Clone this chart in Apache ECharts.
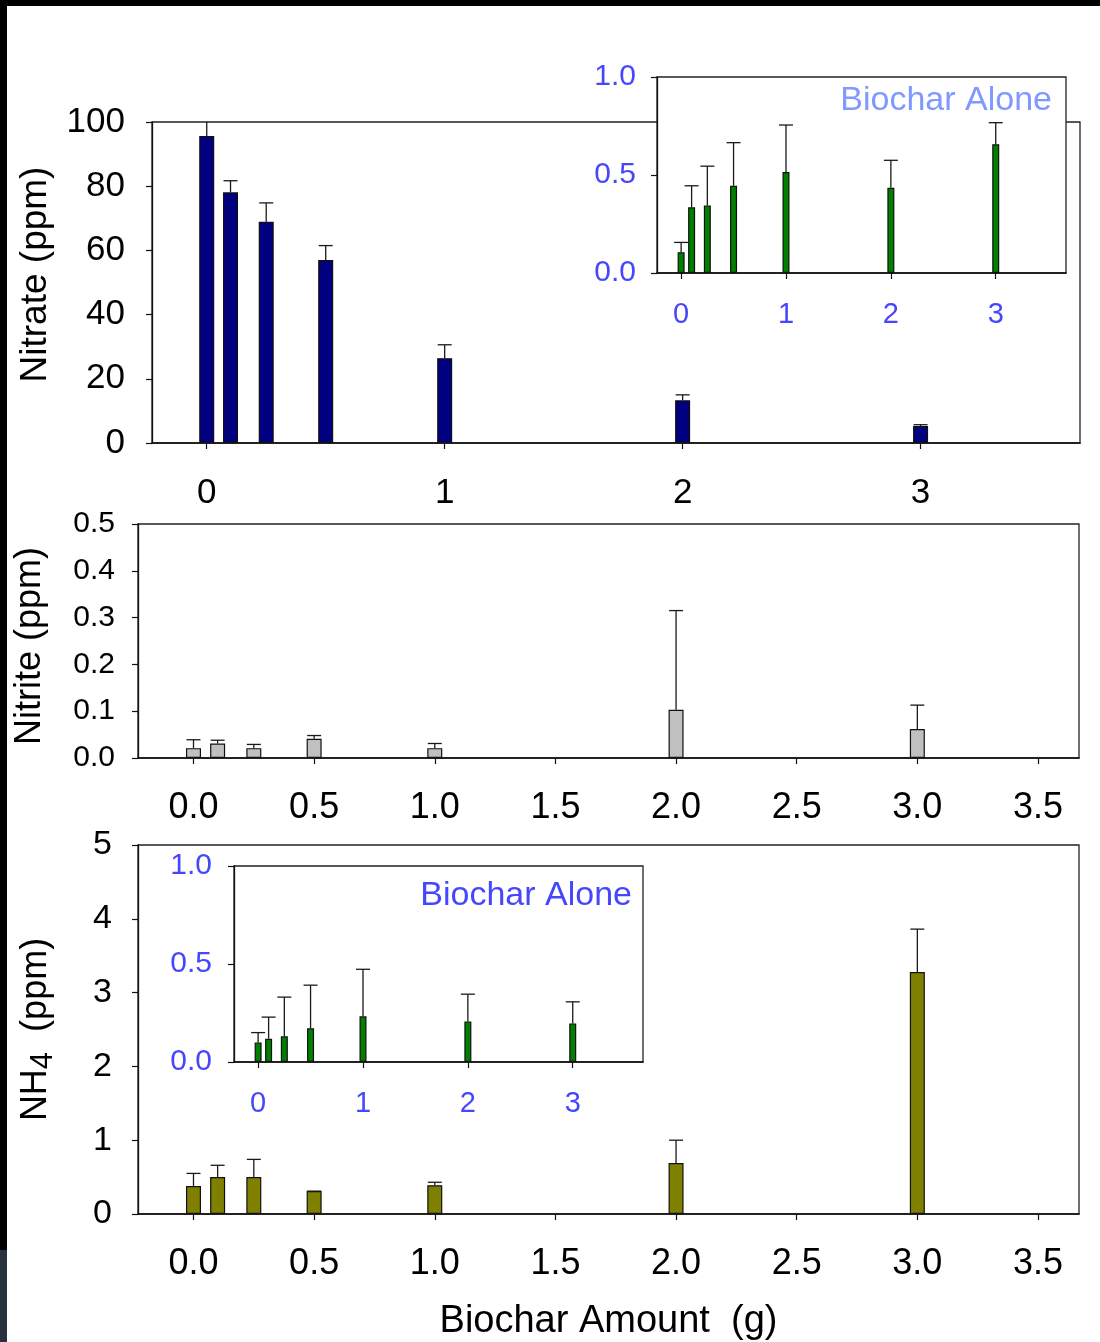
<!DOCTYPE html>
<html>
<head>
<meta charset="utf-8">
<script src="https://cdn.jsdelivr.net/npm/echarts@6/dist/echarts.min.js"></script>
<style>
  html, body { margin: 0; padding: 0; background: #000; }
  #main { width: 1100px; height: 1342px; }
</style>
</head>
<body>
<div id="main"></div>
<script>
// biochar amount (g) for every bar
const amounts = [0, 0.1, 0.25, 0.5, 1, 2, 3]

// nitrate (ppm), biochar + soil
const nitrate = [95.6, 78.1, 68.9, 57.0, 26.4, 13.3, 5.3]
const nitrateErr = [5.0, 3.6, 5.9, 4.5, 4.2, 1.7, 0.4]
// nitrate inset, biochar alone
const nitrateAlone = [0.106, 0.335, 0.345, 0.445, 0.515, 0.435, 0.657]
const nitrateAloneErr = [0.05, 0.11, 0.2, 0.22, 0.24, 0.14, 0.11]

// nitrite (ppm)
const nitrite = [0.021, 0.031, 0.021, 0.041, 0.021, 0.103, 0.062]
const nitriteErr = [0.018, 0.007, 0.008, 0.007, 0.01, 0.212, 0.051]

// NH4 (ppm)
const nh4 = [0.38, 0.50, 0.50, 0.31, 0.39, 0.69, 3.28]
const nh4Err = [0.17, 0.16, 0.24, 0, 0.04, 0.31, 0.58]
// NH4 inset, biochar alone
const nh4Alone = [0.10, 0.119, 0.131, 0.172, 0.233, 0.206, 0.197]
const nh4AloneErr = [0.05, 0.11, 0.2, 0.22, 0.24, 0.14, 0.11]

// tick values
const ticksWhole = [0, 1, 2, 3]
const ticksHalf = [0, 0.5, 1, 1.5, 2, 2.5, 3, 3.5]

const font = 'Liberation Sans, Arial, sans-serif'
const blue = '#4646ff'

const bars = vals => amounts.map((a, i) => [a, vals[i]])
const errs = (vals, e) => amounts.map((a, i) => [a, vals[i], e[i]])

// vertical error bar with a cap, drawn from the bar top upwards
const errorBar = (params, api) => {
  const x = api.value(0)
  const y = api.value(1)
  const e = api.value(2)
  const p0 = api.coord([x, y])
  const p1 = api.coord([x, y + e])
  const st = { stroke: '#1a1a1a', lineWidth: 1.3 }
  return {
    type: 'group',
    children: [
      { type: 'line', shape: { x1: p0[0], y1: p0[1], x2: p1[0], y2: p1[1] }, style: st },
      { type: 'line', shape: { x1: p1[0] - 7, y1: p1[1], x2: p1[0] + 7, y2: p1[1] }, style: st }
    ]
  }
}

const xAxisOf = (gi, ticks, fmt, size, color, margin, z) => ({
  type: 'value',
  gridIndex: gi,
  min: -0.23,
  max: 3.67,
  z: z,
  splitLine: { show: false },
  axisLine: { show: true, onZero: false, lineStyle: { color: '#111', width: 1.5 } },
  axisTick: { show: true, length: 6, customValues: ticks, lineStyle: { color: '#111', width: 1.2 } },
  axisLabel: {
    customValues: ticks, formatter: fmt, margin: margin,
    fontSize: size, color: color, fontFamily: font
  }
})

const yAxisOf = (gi, max, interval, fmt, size, color, margin, z) => ({
  type: 'value',
  gridIndex: gi,
  min: 0,
  max: max,
  interval: interval,
  z: z,
  splitLine: { show: false },
  axisLine: { show: true, onZero: false, lineStyle: { color: '#111', width: 1.3 } },
  axisTick: { show: true, length: 6, lineStyle: { color: '#111', width: 1.2 } },
  axisLabel: { formatter: fmt, margin: margin, fontSize: size, color: color, fontFamily: font }
})

const fixed1 = v => v.toFixed(1)
const whole = v => String(v)

const xAxes = [
  xAxisOf(0, ticksWhole, whole, 35, '#000', 33, 0),
  xAxisOf(1, ticksWhole, whole, 29, blue, 27, 6),
  xAxisOf(2, ticksHalf, fixed1, 36, '#000', 32, 0),
  Object.assign(xAxisOf(3, ticksHalf, fixed1, 36, '#000', 32, 0), {
    name: 'Biochar Amount  (g)',
    nameLocation: 'middle',
    nameGap: 89,
    nameTextStyle: { fontSize: 38, color: '#000', fontFamily: font }
  }),
  xAxisOf(4, ticksWhole, whole, 29, blue, 27, 6)
]

const yAxes = [
  Object.assign(yAxisOf(0, 100, 20, whole, 35, '#000', 27, 0), {
    name: 'Nitrate (ppm)', nameLocation: 'middle', nameGap: 98,
    nameTextStyle: { fontSize: 37, color: '#000', fontFamily: font, padding: [0, 0, 0, 16] }
  }),
  yAxisOf(1, 1, 0.5, fixed1, 30, blue, 21, 6),
  Object.assign(yAxisOf(2, 0.5, 0.1, fixed1, 30, '#000', 23, 0), {
    name: 'Nitrite (ppm)', nameLocation: 'middle', nameGap: 90,
    nameTextStyle: { fontSize: 36, color: '#000', fontFamily: font, padding: [0, 10, 0, 0] }
  }),
  Object.assign(yAxisOf(3, 5, 1, whole, 34, '#000', 26, 0), {
    name: '{a|NH}{s|4}{a|  (ppm)}', nameLocation: 'middle', nameGap: 79,
    nameTextStyle: {
      color: '#000', fontFamily: font,
      rich: {
        a: { fontSize: 36, fontFamily: font, color: '#000' },
        s: { fontSize: 31, fontFamily: font, color: '#000', padding: [14, 0, 0, 0] }
      }
    }
  }),
  yAxisOf(4, 1, 0.5, fixed1, 30, blue, 22, 6)
]

const barSeries = (gi, vals, color, width, z) => ({
  type: 'bar',
  xAxisIndex: gi,
  yAxisIndex: gi,
  data: bars(vals),
  barWidth: width,
  z: z,
  silent: true,
  itemStyle: { color: color, borderColor: '#111', borderWidth: 1.2 }
})

const errSeries = (gi, vals, e, z) => ({
  type: 'custom',
  xAxisIndex: gi,
  yAxisIndex: gi,
  data: errs(vals, e),
  encode: { x: 0, y: 1 },
  renderItem: errorBar,
  clip: true,
  z: z,
  silent: true
})

const frame = { show: true, borderColor: '#222', borderWidth: 1.3 }

const option = {
  animation: false,
  backgroundColor: '#000',
  graphic: [
    { type: 'rect', z: -10, shape: { x: 7, y: 6, width: 1093, height: 1336 }, style: { fill: '#fff' } },
    { type: 'rect', z: -10, shape: { x: 0, y: 1250, width: 7, height: 92 }, style: { fill: '#27323e' } },
    {
      type: 'text', z: 20, x: 1052, y: 101,
      style: { text: 'Biochar Alone', fill: '#8098ff', fontSize: 34, fontFamily: font, align: 'right', verticalAlign: 'middle' }
    },
    {
      type: 'text', z: 20, x: 632, y: 896,
      style: { text: 'Biochar Alone', fill: blue, fontSize: 34, fontFamily: font, align: 'right', verticalAlign: 'middle' }
    }
  ],
  grid: [
    Object.assign({ left: 152, top: 122, width: 928, height: 321, z: 0 }, frame),
    Object.assign({ left: 657, top: 77, width: 409, height: 196, z: 5, backgroundColor: '#fff' }, frame),
    Object.assign({ left: 138, top: 524, width: 941, height: 234, z: 0 }, frame),
    Object.assign({ left: 138, top: 845, width: 941, height: 370, z: 0 }, frame),
    Object.assign({ left: 234, top: 866, width: 409, height: 196, z: 5, backgroundColor: '#fff' }, frame)
  ],
  xAxis: xAxes,
  yAxis: yAxes,
  series: [
    barSeries(0, nitrate, '#000080', 15, 2),
    errSeries(0, nitrate, nitrateErr, 3),
    barSeries(1, nitrateAlone, '#008000', 7, 7),
    errSeries(1, nitrateAlone, nitrateAloneErr, 8),
    barSeries(2, nitrite, '#c0c0c0', 15, 2),
    errSeries(2, nitrite, nitriteErr, 3),
    barSeries(3, nh4, '#808000', 15, 2),
    errSeries(3, nh4, nh4Err, 3),
    barSeries(4, nh4Alone, '#008000', 7, 7),
    errSeries(4, nh4Alone, nh4AloneErr, 8)
  ]
}

const myChart = echarts.init(document.getElementById('main'))
myChart.setOption(option)
</script>
</body>
</html>
